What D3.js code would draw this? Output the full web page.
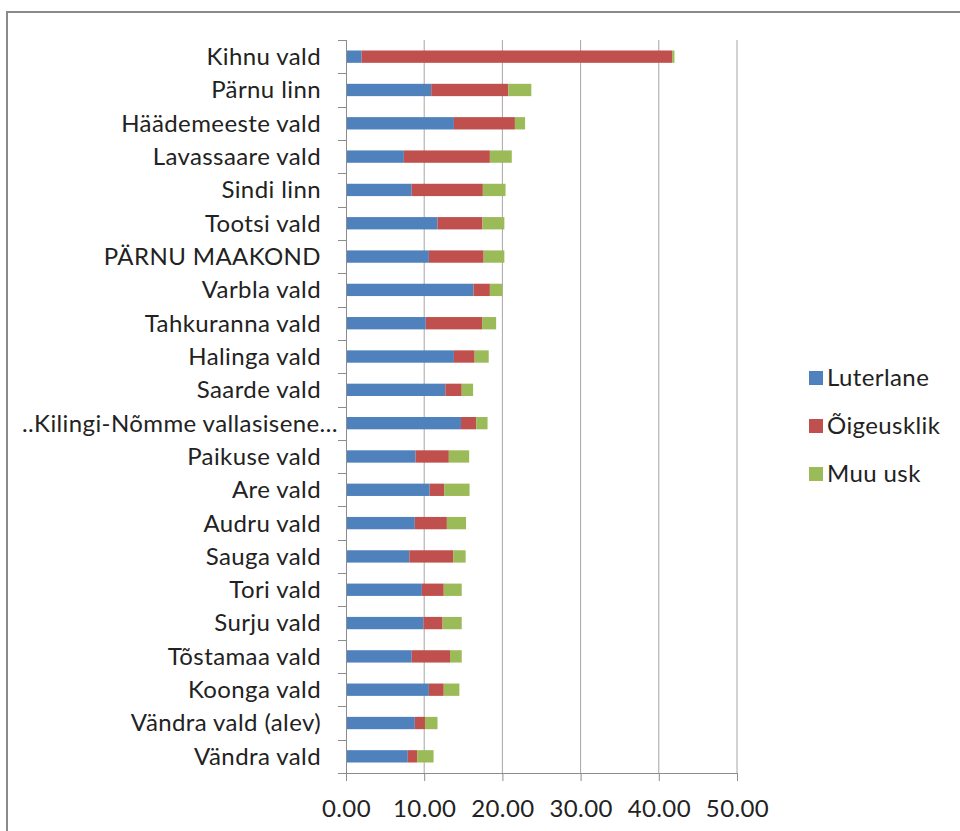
<!DOCTYPE html>
<html>
<head>
<meta charset="utf-8">
<script src="https://cdn.jsdelivr.net/npm/d3@7"></script>
<style>
  html, body { margin: 0; padding: 0; background: #fff; }
  svg { display: block; font-family: Lato, "Open Sans", sans-serif; }
</style>
</head>
<body>
<div id="chart"></div>
<script>
// categories top -> bottom
const categories = [
  'Kihnu vald', 'Pärnu linn', 'Häädemeeste vald', 'Lavassaare vald', 'Sindi linn',
  'Tootsi vald', 'PÄRNU MAAKOND', 'Varbla vald', 'Tahkuranna vald', 'Halinga vald',
  'Saarde vald', '..Kilingi-Nõmme vallasisene…', 'Paikuse vald', 'Are vald', 'Audru vald',
  'Sauga vald', 'Tori vald', 'Surju vald', 'Tõstamaa vald', 'Koonga vald',
  'Vändra vald (alev)', 'Vändra vald'
];
const seriesNames = ['Luterlane', 'Õigeusklik', 'Muu usk'];
const luterlane  = [2.0, 10.9, 13.8, 7.4, 8.4, 11.7, 10.6, 16.3, 10.2, 13.8, 12.7, 14.7, 8.9, 10.7, 8.8, 8.1, 9.7, 9.9, 8.4, 10.6, 8.8, 7.9];
const oigeusklik = [39.7, 9.85, 7.8, 11.0, 9.1, 5.75, 7.0, 2.1, 7.2, 2.65, 2.1, 1.95, 4.25, 1.85, 4.1, 5.6, 2.8, 2.45, 4.9, 1.9, 1.3, 1.2];
const muuUsk     = [0.3, 2.95, 1.3, 2.8, 2.9, 2.8, 2.65, 1.6, 1.8, 1.8, 1.45, 1.45, 2.6, 3.25, 2.45, 1.6, 2.3, 2.45, 1.5, 2.0, 1.6, 2.1];
const xTicks = [0, 10, 20, 30, 40, 50];
const colors = ['#4F81BD', '#C0504D', '#9BBB59'];

const W = 960, H = 831;
const plot = { left: 346, right: 737, top: 40, bottom: 773 };
const FS = 24;
const LS = '0.4px';

const svg = d3.select('#chart').append('svg').attr('width', W).attr('height', H);

// outer frame (only top and left edges visible)
svg.append('path')
  .attr('d', `M7,${H + 5}V12H${W + 5}`)
  .attr('fill', 'none').attr('stroke', '#8a8a8a').attr('stroke-width', 2);

const x = d3.scaleLinear().domain([0, 50]).range([plot.left, plot.right]);
const y = d3.scaleBand().domain(categories).range([plot.top, plot.bottom])
  .paddingInner(0.63).paddingOuter(0.315);

// vertical gridlines
svg.append('g').selectAll('line').data(xTicks.slice(1)).join('line')
  .attr('x1', d => x(d)).attr('x2', d => x(d))
  .attr('y1', plot.top).attr('y2', plot.bottom)
  .attr('stroke', '#a6a6a6').attr('stroke-width', 1);

// stacked bars
const rows = categories.map((c, i) => ({ cat: c, vals: [luterlane[i], oigeusklik[i], muuUsk[i]] }));
const stacked = d3.stack().keys([0, 1, 2]).value((d, k) => d.vals[k])(rows);

svg.append('g').selectAll('g').data(stacked).join('g')
  .attr('fill', (d, i) => colors[i])
  .selectAll('rect').data(d => d).join('rect')
  .attr('x', d => x(d[0]))
  .attr('width', d => x(d[1]) - x(d[0]))
  .attr('y', d => y(d.data.cat))
  .attr('height', y.bandwidth());

// y axis line + category boundary ticks
const step = y.step();
const yAxis = svg.append('g').attr('stroke', '#8c8c8c').attr('stroke-width', 1);
yAxis.append('line')
  .attr('x1', plot.left + 0.5).attr('x2', plot.left + 0.5)
  .attr('y1', plot.top).attr('y2', plot.bottom);
yAxis.selectAll('line.tick').data(d3.range(categories.length + 1)).join('line')
  .attr('class', 'tick')
  .attr('x1', plot.left - 8).attr('x2', plot.left)
  .attr('y1', i => Math.round(plot.top + i * step) + 0.5)
  .attr('y2', i => Math.round(plot.top + i * step) + 0.5);

// x axis
const xAxis = svg.append('g')
  .attr('transform', `translate(0,${plot.bottom})`)
  .call(d3.axisBottom(x).tickValues(xTicks).tickFormat(d3.format('.2f')).tickSize(8).tickSizeOuter(0));
xAxis.select('.domain').attr('stroke', '#8c8c8c');
xAxis.selectAll('.tick line').attr('stroke', '#8c8c8c');
xAxis.selectAll('.tick text')
  .attr('y', 27).attr('dy', '0.71em')
  .attr('font-size', FS).attr('font-family', 'Lato, sans-serif')
  .attr('letter-spacing', LS).attr('fill', '#222');

// category labels
svg.append('g').selectAll('text').data(categories).join('text')
  .attr('x', d => d.startsWith('..') ? plot.left - 8 : plot.left - 25)
  .attr('y', d => y(d) + y.bandwidth() / 2)
  .attr('dy', '0.35em')
  .attr('text-anchor', 'end')
  .attr('font-size', FS)
  .attr('letter-spacing', LS)
  .attr('fill', '#222')
  .text(d => d);

// legend
const legend = svg.append('g').selectAll('g').data(seriesNames).join('g')
  .attr('transform', (d, i) => `translate(809,${378 + i * 48})`);
legend.append('rect')
  .attr('x', 0).attr('y', -7).attr('width', 14).attr('height', 14)
  .attr('fill', (d, i) => colors[i]);
legend.append('text')
  .attr('x', 18).attr('dy', '0.35em')
  .attr('font-size', FS).attr('letter-spacing', LS).attr('fill', '#222')
  .text(d => d);
</script>
</body>
</html>
